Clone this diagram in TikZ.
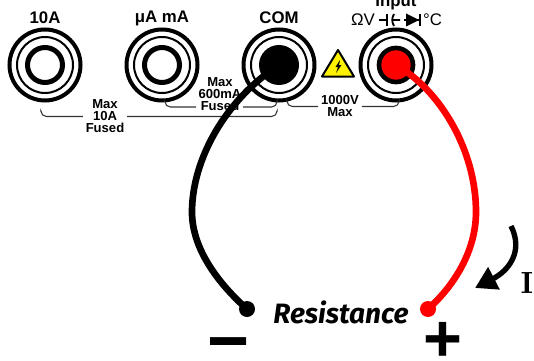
\documentclass[tikz,border=0pt]{standalone}
\usepackage{fontspec}
\setmainfont{Liberation Sans}
\newfontfamily\handfont{Fira Sans}
\usetikzlibrary{arrows.meta}
\tikzset{
  outerring/.style={circle,draw,line width=3pt,inner sep=0,minimum size=53.25pt},
  midring/.style={circle,draw,line width=1.5pt,inner sep=0,minimum size=42pt},
  innerring/.style={circle,draw,line width=3.75pt,inner sep=0,minimum size=26.25pt},
  jacklabel/.style={font=\bfseries\fontsize{12.6}{14}\selectfont,inner sep=0},
  symlabel/.style={font=\fontsize{12.6}{14}\selectfont,inner sep=0},
  ratelabel/.style={font=\bfseries\fontsize{9.8}{9}\selectfont,align=center,inner sep=2pt},
  bracket/.style={draw=black!80,line width=.8pt,rounded corners=4pt},
  wire/.style={line width=5pt,line cap=round},
  tipdot/.style={circle,inner sep=0,minimum size=12pt}
}
\begin{document}
\begin{tikzpicture}[x=.75pt,y=-.75pt]
  \useasboundingbox (0,0) rectangle (534,360);
  \clip (0,0) rectangle (534,360);
  \foreach \pos/\name in {45/tena,162/ua,279/com,396/input} {
    \node[outerring] (\name) at (\pos,65) {};
    \node[midring] at (\name) {};
  }
  \node[innerring] at (tena) {};
  \node[innerring] at (ua) {};
  \node[circle,fill,inner sep=0,minimum size=30pt] (comhole) at (com) {};
  \node[circle,fill,inner sep=0,minimum size=29pt] (inhole) at (input) {};
  \node[circle,fill=red,inner sep=0,minimum size=22pt] (inred) at (input) {};
  \node[jacklabel] at (45,18) {10A};
  \node[jacklabel] at (162,18) {μA mA};
  \node[jacklabel] at (279,18) {COM};
  \node[jacklabel] at (396,2) {Input};
  \node[symlabel] at (363,20) {ΩV};
  \node[symlabel] at (432.5,20) {°C};
  % capacitor and diode
  \draw[line width=1.4pt] (379,20) -- (387,20) (387,14) -- (387,26);
  \draw[line width=1.4pt] (394,14) to[bend right=30] (394,26) (392,20) -- (400,20);
  \draw[line width=1.4pt] (404,20) -- (421,20) (420,14) -- (420,26);
  \fill (406,13.5) -- (419,20) -- (406,26.5) -- cycle;
  % warning sign
  \draw[fill=yellow,line width=1.5pt,line join=round] (338,50) -- (354,76.5) -- (322,76.5) -- cycle;
  \fill (340,60) -- (335.5,67) -- (338,67) -- (336,73) -- (341.5,65) -- (339,65) -- cycle;
  % fuse brackets
  \node[ratelabel] (maxa) at (105,116.5) {Max\\10A\\Fused};
  \node[ratelabel] (maxb) at (220,94) {Max\\600mA\\Fused};
  \node[ratelabel] (maxc) at (340,106.5) {1000V\\Max};
  \coordinate (enda) at (41,112);
  \coordinate (endb) at (277,112);
  \coordinate (endc) at (165,102);
  \coordinate (gapl) at (196,107);
  \coordinate (gapr) at (243,107);
  \coordinate (endd) at (277,102);
  \coordinate (ende) at (287,102);
  \coordinate (endf) at (399,102);
  \draw[bracket] (enda) |- (maxa.west);
  \draw[bracket] (maxa.east) -| (endb);
  \draw[bracket] (endc) |- (gapl);
  \draw[bracket] (gapr) -| (endd);
  \draw[bracket] (ende) |- (maxc.west);
  \draw[bracket] (maxc.east) -| (endf);
  % test leads
  \node[tipdot,fill=black] (minus) at (247,309) {};
  \node[tipdot,fill=red] (plus) at (428,309) {};
  \draw[wire,black] (com.center) .. controls (225,100) and (192,160) .. (192,212)
    .. controls (192,250) and (220,285) .. (minus.center);
  \draw[wire,red] (input.center) .. controls (440,90) and (476,150) .. (476,212)
    .. controls (476,250) and (455,285) .. (plus.center);
  \node[inner sep=0] (res) at (341,312) {\handfont\bfseries\itshape\fontsize{21}{24}\selectfont Resistance};
  \node[inner sep=0,font=\bfseries\fontsize{54}{54}\selectfont] at (229,352) {−};
  \node[inner sep=0,font=\bfseries\fontsize{50}{50}\selectfont] at (443,342) {+};
  % current arrow
  \coordinate (curstart) at (511,226);
  \coordinate (curtip) at (475,288);
  \draw[line width=4pt,-{Triangle[length=16pt,width=18pt]}] (curstart) .. controls (524,252) and (508,271) .. (curtip);
  \node[inner sep=0,font=\fontfamily{lmr}\bfseries\fontsize{23}{24}\selectfont] at (527,283) {I};
\end{tikzpicture}
\end{document}
